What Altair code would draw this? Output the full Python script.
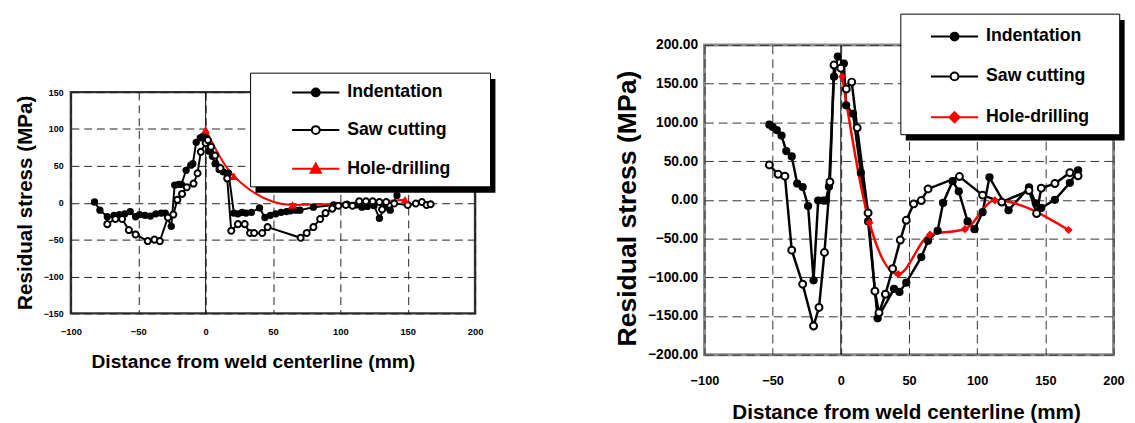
import altair as alt
import pandas as pd

FONT = "Liberation Sans"
RED = "#ff0000"
SERIES = ["Indentation", "Saw cutting", "Hole-drilling"]
X_TICKS = [-100, -50, 0, 50, 100, 150, 200]
X_TITLE = "Distance from weld centerline (mm)"
Y_TITLE = "Residual stress (MPa)"

# ---------------- left panel data ----------------
L_IND_X = [-82.5, -78.5, -73, -68, -64, -60, -56, -52, -49, -45, -41, -37, -33, -30, -25.5, -23, -20, -18,
           -14.5, -11, -9.5, -7, -4, -2, 0.5, 2.5, 5, 7, 10, 13, 17, 21, 24, 27, 30, 34, 40, 44, 48, 52,
           56, 60, 63, 67, 70, 80, 95, 105, 112, 116, 120, 125, 129, 133, 137, 142]
L_IND_Y = [1, -10, -19, -17, -16, -15, -12, -19, -16, -17, -18, -15, -14, -14, -32, 24, 25, 25,
           44, 51, 53, 82, 88, 90, 88, 70, 63, 53, 45, 42, 40, -14, -15, -13, -14, -13, -7, -20, -17, -15,
           -13, -12, -11, -10, -10, -6, -3, -2, -3, -6, -5, -4, -21, -6, -10, 10]
L_SAW_X = [-73, -67, -62, -57, -52, -43, -38, -34, -28, -24, -21, -17.5, -14, -9, -6, -3.6, 0, 1.7, 4, 7,
           11, 16, 19, 24, 29, 33, 36, 42, 46, 70.5, 75, 80, 85, 89, 94, 98.5, 104, 109, 114, 119,
           124, 129, 131, 134, 140, 150, 156, 160.5, 164, 167]
L_SAW_Y = [-29, -22, -22, -37, -43, -52, -50, -52, -20, -16, 4, 12, 21, 26, 40, 69, 81, 85, 76, 64,
           47, 33, -38, -29, -29, -41, -41, -41, -33, -47.5, -41, -33, -22, -14, -8, -4, -3, -4, 2, 2,
           2, 1, -9, 1, -1, -3, -1, 1, -3, -2]
L_HOLE_X = [0, 21, 64.5, 148]
L_HOLE_Y = [99, 36, -3, 4]

# ---------------- right panel data ----------------
R_IND_X = [-52.4, -50, -47, -43.5, -40, -36, -32, -28, -24, -20, -16.6, -13, -11, -8.7, -5, -2.2, 2.2, 3.9,
           9, 14.7, 20, 27, 39, 43, 48, 59, 64, 71, 75, 82, 86.5, 93, 98, 104, 109, 123, 138, 143, 147,
           157, 168, 174]
R_IND_Y = [97, 94, 90, 83, 63, 56, 21, 16.5, -8, -104, -1, -1, -1, 17, 159, 185, 176, 122,
           111, 35, -28, -153, -115, -119, -107, -74, -53, -40, -4, 24, 11, -28, -38, -16, 29, -13.5, 16,
           -4.6, -10.5, 0, 22, 38]
R_SAW_X = [-52.4, -46, -41, -36, -28, -20, -16, -12, -8, -5, 0, 4, 8, 12, 20, 25, 28, 32.7, 38, 43.6,
           48, 53.4, 59, 64, 87, 104, 118, 138, 143.6, 147, 157, 168, 174]
R_SAW_Y = [45, 33, 30.5, -65, -109, -163, -139, -68, 23, 174, 170, 143, 152, 93, -17, -118, -146, -122,
           -89, -52, -26.5, -5.3, -1, 14, 30, 6, -3, 12, -17.7, 15, 21, 35, 31]
R_HOLE_X = [1, 21, 42, 65.4, 91, 113, 167]
R_HOLE_Y = [159, -29.5, -96, -45, -38, -0.7, -39]

# legend symbols (line + marker), unit = sqrt(symbolSize)/2 px
P_CIRCLE = "M-6,0L-1,0M1,0L6,0M1,0A1,1,0,1,1,-1,0A1,1,0,1,1,1,0Z"
P_TRI = "M-6,0L6,0M0,-1.3L1.3,1L-1.3,1Z"
P_DIAM = "M-6,0L6,0M0,-1.3L1.3,0L0,1.3L-1.3,0Z"

ONE = alt.Data(values=[{"a": 1}])
INDEP = dict(color="independent", fill="independent", shape="independent")


def panel(ind, saw, hole, o):
    d_ind = pd.DataFrame({"x": ind[0], "y": ind[1], "series": "Indentation"})
    d_saw = pd.DataFrame({"x": saw[0], "y": saw[1], "series": "Saw cutting"})
    d_hole = pd.DataFrame({"x": hole[0], "y": hole[1], "series": "Hole-drilling"})
    d_blk = pd.concat([d_ind, d_saw], ignore_index=True)
    d_all = pd.concat([d_ind, d_saw, d_hole], ignore_index=True)

    common = dict(labelFont=FONT, labelFontWeight="bold", labelColor="black",
                  titleFont=FONT, titleFontWeight="bold", titleColor="black",
                  grid=True, gridColor=o["grid"], gridDash=o["dash"], gridWidth=1,
                  domain=False, ticks=False, tickSize=0, labelOverlap=False, labelFlush=False)
    xenc = alt.X("x:Q", scale=alt.Scale(domain=[-100, 200], nice=False, zero=False),
                 axis=alt.Axis(values=X_TICKS, format="d", title=X_TITLE,
                               labelFontSize=o["xl_fs"], labelPadding=o["xl_pad"],
                               titleFontSize=o["xt_fs"], titleX=o["xt_x"], titleY=o["xt_y"], **common))
    yenc = alt.Y("y:Q", scale=alt.Scale(domain=o["ydom"], nice=False, zero=False),
                 axis=alt.Axis(values=o["yticks"], format=o["yfmt"], title=Y_TITLE,
                               labelFontSize=o["yl_fs"], labelPadding=o["yl_pad"],
                               titleFontSize=o["yt_fs"], titleX=o["yt_x"], titleY=o["yt_y"], **common))

    spacer = alt.Chart(ONE).mark_rect(fill="white", opacity=0).encode(
        x=alt.value(o["sp"][0]), x2=alt.value(0), y=alt.value(o["sp"][1]), y2=alt.value(0))
    zero = alt.Chart(ONE).mark_rule(color="black", strokeWidth=1).encode(x=alt.datum(0))
    blk = alt.Chart(d_blk).mark_line(color="black", strokeWidth=o["lw"]).encode(
        x=xenc, y=yenc, detail="series:N")
    red = alt.Chart(d_hole).mark_line(color=RED, strokeWidth=o["lw"], interpolate="monotone").encode(
        x=xenc, y=yenc)
    p_ind = alt.Chart(d_ind).mark_point(shape="circle", filled=True, color="black", opacity=1,
                                        size=o["s_ind"]).encode(x=xenc, y=yenc)
    p_saw = alt.Chart(d_saw).mark_point(shape="circle", fill="white", stroke="black", opacity=1,
                                        strokeWidth=o["sw_saw"], size=o["s_saw"]).encode(x=xenc, y=yenc)
    p_hole = alt.Chart(d_hole).mark_point(shape=o["hole_shape"], filled=True, color=RED, opacity=1,
                                          size=o["s_hole"]).encode(x=xenc, y=yenc)

    leg = dict(title=None, orient="none", legendX=o["lx"], legendY=o["ly"], direction="vertical",
               padding=0, symbolSize=64, symbolStrokeWidth=2, symbolOffset=15, symbolOpacity=1,
               symbolFillColor="white", symbolStrokeColor="black", labelOffset=23,
               labelFont=FONT, labelFontSize=18, labelFontWeight="bold", labelColor="black",
               labelLimit=400, rowPadding=o["rp"])
    dummy = alt.Chart(d_all).mark_point(opacity=0, size=1).encode(
        x=xenc, y=yenc,
        color=alt.Color("series:N", scale=alt.Scale(domain=SERIES, range=["black", "black", RED]),
                        legend=alt.Legend(**leg)),
        fill=alt.Fill("series:N", scale=alt.Scale(domain=SERIES, range=["black", "white", RED]),
                      legend=alt.Legend(**leg)),
        shape=alt.Shape("series:N", scale=alt.Scale(domain=SERIES, range=[P_CIRCLE, P_CIRCLE, o["p_hole"]]),
                        legend=alt.Legend(**leg)),
    )
    bx = o["box"]
    shadow = alt.Chart(ONE).mark_rect(color="black").encode(
        x=alt.value(bx[0] + 5), x2=alt.value(bx[2] + 5), y=alt.value(bx[1] + 6), y2=alt.value(bx[3] + 6))
    box = alt.Chart(ONE).mark_rect(fill="white", stroke="black", strokeWidth=1).encode(
        x=alt.value(bx[0]), x2=alt.value(bx[2]), y=alt.value(bx[1]), y2=alt.value(bx[3]))

    return alt.layer(spacer, zero, blk, red, p_ind, p_saw, p_hole, dummy, shadow, box).properties(
        width=o["w"], height=o["h"],
        view=alt.ViewBackground(stroke=o["frame"], strokeWidth=o["frame_w"], fill="white"))


left = panel((L_IND_X, L_IND_Y), (L_SAW_X, L_SAW_Y), (L_HOLE_X, L_HOLE_Y), dict(
    w=411, h=225, ydom=[-150, 150], yticks=[-150, -100, -50, 0, 50, 100, 150], yfmt="d",
    grid="#222222", dash=[8, 5], frame="#333333", frame_w=2.5,
    xl_fs=9.5, xl_pad=14, xt_fs=19.5, xt_x=185, xt_y=40,
    yl_fs=9, yl_pad=8, yt_fs=21, yt_x=-36, yt_y=112,
    sp=(-62, -19.3), lw=2, s_ind=55, s_saw=38, sw_saw=2, s_hole=80, hole_shape="triangle-up",
    p_hole=P_TRI, lx=225, ly=-8.7, rp=20.3, box=(182.7, -19.3, 426.7, 96.3)))

right = panel((R_IND_X, R_IND_Y), (R_SAW_X, R_SAW_Y), (R_HOLE_X, R_HOLE_Y), dict(
    w=416, h=315, ydom=[-200, 200], yticks=[-200, -150, -100, -50, 0, 50, 100, 150, 200], yfmt=".2f",
    grid="#333333", dash=[9, 5], frame="#8c8c8c", frame_w=3,
    xl_fs=13, xl_pad=20, xt_fs=21, xt_x=205, xt_y=47.5,
    yl_fs=14, yl_pad=7, yt_fs=27, yt_x=-64, yt_y=166,
    sp=(-150, -31.5), lw=2.5, s_ind=70, s_saw=50, sw_saw=2, s_hole=70, hole_shape="diamond",
    p_hole=P_DIAM, lx=230.3, ly=-17.5, rp=22.5, box=(199.7, -31.3, 422.3, 91.3)))

# empty block that pushes the left panel down relative to the right one
top_gap = alt.Chart(ONE).mark_rect(fill="white", opacity=0).encode(
    x=alt.value(0), x2=alt.value(1), y=alt.value(0), y2=alt.value(25.7)
).properties(width=1, height=25.7, view=alt.ViewBackground(stroke=None, fill=None))

left_col = alt.vconcat(top_gap, left, spacing=0).resolve_scale(**INDEP).resolve_legend(**INDEP)

chart = alt.hconcat(left_col, right, spacing=59.3).resolve_scale(
    x="independent", y="independent", **INDEP
).resolve_legend(**INDEP).properties(
    padding={"left": 0, "top": 0, "right": 0, "bottom": 0}, background="white")

chart.save("out.html", embed_options={"renderer": "svg", "actions": False})
